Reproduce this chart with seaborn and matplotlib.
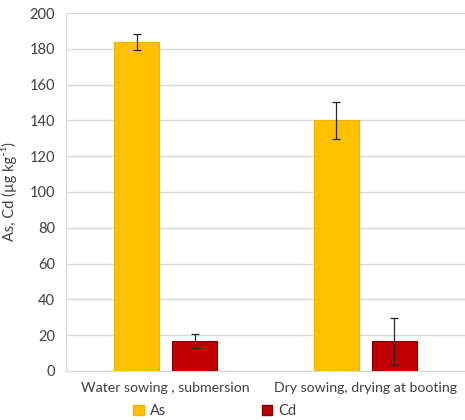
import numpy as np
import pandas as pd
import matplotlib
matplotlib.use("Agg")
import matplotlib.pyplot as plt
import seaborn as sns

# 数据
treatments = ["Water sowing , submersion", "Dry sowing, drying at booting"]
elements = ["As", "Cd"]
as_values = [184.0, 140.0]
as_errors = [4.5, 10.5]
cd_values = [16.5, 16.5]
cd_errors = [4.0, 13.0]

colors = {"As": "#FFC000", "Cd": "#C00000"}
edges = {"As": "#F0B400", "Cd": "#7A0000"}
text_color = "#404040"

df = pd.DataFrame({
    "treatment": treatments * 2,
    "element": ["As"] * 2 + ["Cd"] * 2,
    "value": as_values + cd_values,
    "err": as_errors + cd_errors,
})

sns.set_style("white")
plt.rcParams["font.family"] = ["Lato", "DejaVu Sans"]

fig = plt.figure(figsize=(4.65, 4.2), dpi=100)
ax = fig.add_axes([0.142, 0.117, 0.858, 0.852])

sns.barplot(data=df, x="treatment", y="value", hue="element",
            order=treatments, hue_order=elements, palette=colors, saturation=1,
            width=0.58, gap=0.224, errorbar=None, legend=False, ax=ax, zorder=3)

# 边框颜色 + 误差线
for container, el in zip(ax.containers, elements):
    sub = df[df["element"] == el].set_index("treatment").loc[treatments]
    xs = []
    for bar in container:
        bar.set_edgecolor(edges[el])
        bar.set_linewidth(0.8)
        xs.append(bar.get_x() + bar.get_width() / 2)
    ax.errorbar(xs, sub["value"], yerr=sub["err"], fmt="none",
                ecolor="#262626", elinewidth=0.9, capsize=3, capthick=0.9, zorder=4)

ax.set_ylim(0, 200)
ax.set_xlim(-0.5, 1.5)
ax.set_yticks(np.arange(0, 201, 20))
ax.yaxis.grid(True, color="#D9D9D9", linewidth=1, zorder=0)
ax.set_axisbelow(True)
for s in ["top", "right"]:
    ax.spines[s].set_visible(False)
ax.spines["left"].set_color("#D9D9D9")
ax.spines["bottom"].set_color("#D9D9D9")
ax.tick_params(axis="y", length=0, labelsize=10.5, colors=text_color, pad=8)
ax.tick_params(axis="x", length=0, labelsize=10.2, colors=text_color, pad=8)
ax.set_xlabel("")
ax.set_ylabel("As, Cd (µg kg⁻¹)", fontsize=10.5, color=text_color, labelpad=9)

handles = [plt.Rectangle((0, 0), 1, 1, facecolor=colors[e], edgecolor=edges[e]) for e in elements]
fig.legend(handles, elements, loc="center", bbox_to_anchor=(0.462, 0.022), ncol=2,
           frameon=False, handlelength=0.7, handleheight=0.7, handletextpad=0.4,
           columnspacing=6.6, fontsize=10.5, labelcolor=text_color)

fig.savefig("out.png", dpi=100)
